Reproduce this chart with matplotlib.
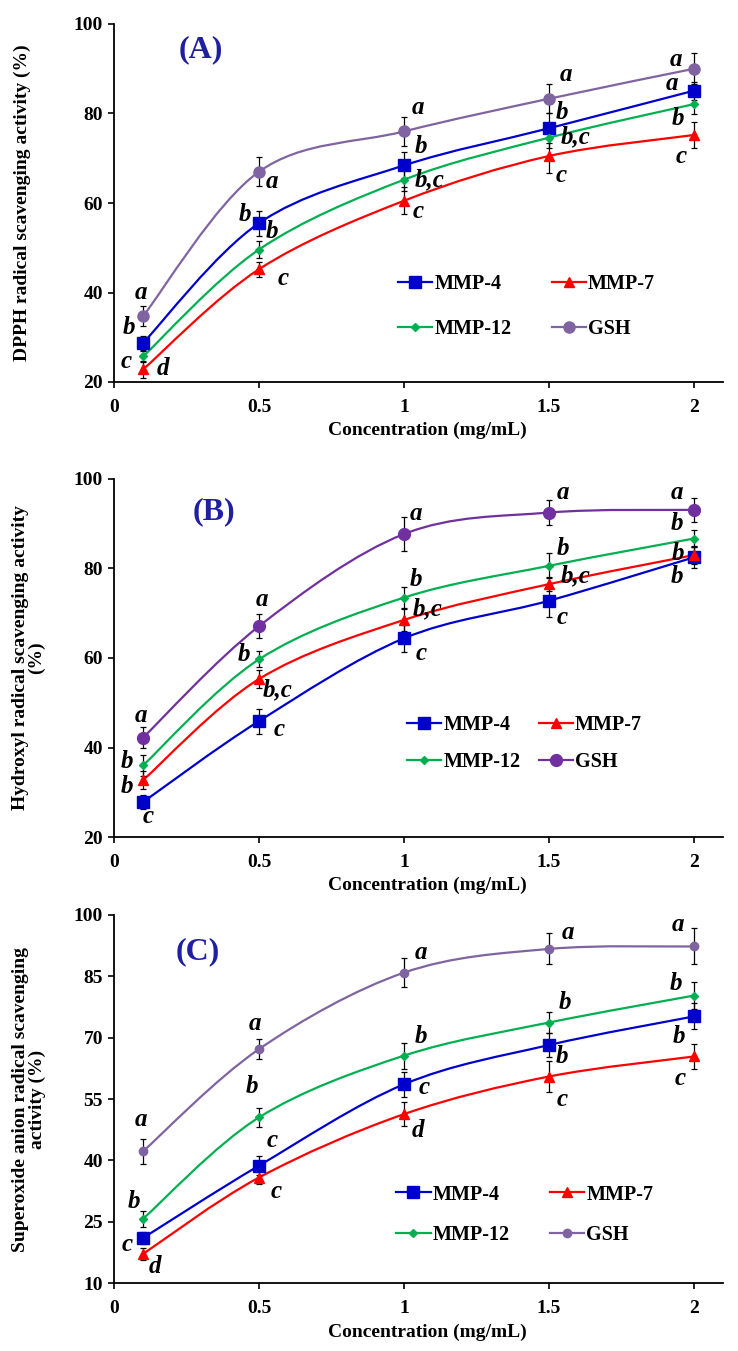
import numpy as np
import matplotlib
matplotlib.use("Agg")
import matplotlib.pyplot as plt
from matplotlib.path import Path
from matplotlib.patches import PathPatch
from matplotlib.lines import Line2D

plt.rcParams["font.family"] = ["Liberation Serif", "DejaVu Serif"]
plt.rcParams["font.weight"] = "bold"

conc = [0.1, 0.5, 1.0, 1.5, 2.0]
series = ["MMP-4", "MMP-7", "MMP-12", "GSH"]
legend_order = ["MMP-4", "MMP-12", "MMP-7", "GSH"]   # ncol=2 fills column-wise

# (A) DPPH
dpph = {
    "MMP-4": [28.7, 55.5, 68.4, 76.7, 85.1],
    "MMP-7": [22.8, 45.2, 60.5, 70.5, 75.2],
    "MMP-12": [25.7, 49.6, 65.2, 74.6, 82.1],
    "GSH": [34.7, 67.0, 76.0, 83.3, 90.0],
}
dpph_err = {
    "MMP-4": [1.6, 2.8, 2.9, 3.3, 2.0],
    "MMP-7": [2.0, 1.7, 3.0, 3.7, 3.0],
    "MMP-12": [1.3, 2.0, 2.5, 2.2, 2.3],
    "GSH": [2.2, 3.2, 3.3, 3.3, 3.5],
}
# (B) hydroxyl
hydroxyl = {
    "MMP-4": [27.8, 45.9, 64.4, 72.8, 82.5],
    "MMP-7": [32.7, 55.3, 68.5, 76.5, 83.0],
    "MMP-12": [36.0, 59.7, 73.5, 80.6, 86.7],
    "GSH": [42.2, 67.1, 87.7, 92.5, 93.1],
}
hydroxyl_err = {
    "MMP-4": [1.5, 2.8, 3.0, 3.6, 2.3],
    "MMP-7": [2.0, 2.0, 2.4, 1.6, 2.0],
    "MMP-12": [2.3, 1.8, 2.4, 2.8, 1.9],
    "GSH": [2.3, 2.7, 3.7, 2.8, 2.6],
}
# (C) superoxide anion
superoxide = {
    "MMP-4": [21.0, 38.7, 58.6, 68.2, 75.2],
    "MMP-7": [17.1, 35.8, 51.3, 60.5, 65.4],
    "MMP-12": [25.7, 50.5, 65.6, 73.7, 80.3],
    "GSH": [42.2, 67.2, 85.9, 91.7, 92.3],
}
superoxide_err = {
    "MMP-4": [1.5, 2.3, 3.0, 3.0, 3.2],
    "MMP-7": [1.5, 1.5, 3.0, 3.9, 3.0],
    "MMP-12": [2.0, 2.4, 3.2, 2.5, 3.2],
    "GSH": [3.0, 2.5, 3.5, 3.8, 4.4],
}

# significance letters: (label, x, y) placed in data coords
letters_a = [("a", 0.094, 39.9), ("b", 0.053, 32.1), ("c", 0.041, 24.6), ("d", 0.168, 23.1),
             ("a", 0.546, 64.8), ("b", 0.451, 57.4), ("b", 0.543, 53.6), ("c", 0.584, 43.2),
             ("a", 1.049, 81.4), ("b", 1.058, 72.6), ("b,c", 1.09, 65.2), ("c", 1.049, 58.1),
             ("a", 1.559, 88.8), ("b", 1.546, 80.2), ("b,c", 1.592, 74.9), ("c", 1.542, 66.1),
             ("a", 1.937, 92.1), ("a", 1.924, 86.8), ("b", 1.946, 78.9), ("c", 1.957, 70.4)]
letters_b = [("a", 0.093, 47.2), ("b", 0.044, 36.8), ("b", 0.044, 31.2), ("c", 0.117, 24.5),
             ("a", 0.511, 73.1), ("b", 0.448, 60.8), ("b,c", 0.565, 53.0), ("c", 0.568, 44.0),
             ("a", 1.042, 92.3), ("b", 1.042, 77.6), ("b,c", 1.082, 71.1), ("c", 1.058, 61.0),
             ("a", 1.549, 96.9), ("b", 1.549, 84.5), ("b,c", 1.593, 78.3), ("c", 1.545, 69.1),
             ("a", 1.94, 96.9), ("b", 1.94, 90.1), ("b", 1.945, 83.4), ("b", 1.94, 78.2)]
letters_c = [("a", 0.092, 50.1), ("b", 0.068, 30.0), ("c", 0.044, 19.4), ("d", 0.141, 14.1),
             ("a", 0.486, 73.4), ("b", 0.477, 58.1), ("c", 0.546, 44.9), ("c", 0.559, 32.4),
             ("a", 1.057, 90.8), ("b", 1.057, 70.3), ("c", 1.07, 57.7), ("d", 1.049, 47.3),
             ("a", 1.567, 95.8), ("b", 1.556, 78.6), ("b", 1.546, 65.4), ("c", 1.546, 54.8),
             ("a", 1.943, 97.6), ("b", 1.937, 83.3), ("b", 1.948, 70.4), ("c", 1.953, 60.1)]

COLORS = {"MMP-4": "#0000cc", "MMP-7": "#ff0000", "MMP-12": "#00b050", "GSH": "#8064a2"}
MARKERS = {"MMP-4": ("s", 8), "MMP-7": ("^", 7), "MMP-12": ("D", 4.5), "GSH": ("o", 7.5)}
TITLE_COLOR = "#1f1fa0"


def smooth_path(x, y):
    """Excel-like smoothed line: Catmull-Rom as cubic Bezier segments."""
    pts = np.column_stack([x, y]).astype(float)
    n = len(pts)
    verts, codes = [pts[0]], [Path.MOVETO]
    for i in range(n - 1):
        p0 = pts[i - 1] if i > 0 else pts[i]
        p1, p2 = pts[i], pts[i + 1]
        p3 = pts[i + 2] if i + 2 < n else pts[i + 1]
        verts += [p1 + (p2 - p0) / 6, p2 - (p3 - p1) / 6, p2]
        codes += [Path.CURVE4] * 3
    return Path(verts, codes)


def panel(rect, data, err, letters, ylim, yticks, ylabel, ylab_x, tag, tag_xy,
          leg_xy, leg_spacing, col_spacing, gsh_color, gsh_ms):
    ax = fig.add_axes(rect)
    colors = dict(COLORS, GSH=gsh_color)
    handles = {}
    for s in series:
        c = colors[s]
        m, ms = MARKERS[s]
        if s == "GSH":
            ms = gsh_ms
        ax.add_patch(PathPatch(smooth_path(conc, data[s]), fill=False, edgecolor=c, lw=1.6, zorder=2))
        ax.errorbar(conc, data[s], yerr=err[s], fmt="none", ecolor="black", elinewidth=0.9,
                    capsize=2.5, capthick=0.9, zorder=3)
        ax.plot(conc, data[s], linestyle="none", marker=m, ms=ms, color=c, zorder=4)
        handles[s] = Line2D([], [], color=c, lw=1.6, marker=m, ms=ms, label=s)
    for lab, lx, ly in letters:
        ax.text(lx, ly, lab, ha="center", va="center", fontsize=18, style="italic",
                fontweight="bold", zorder=5)
    ax.set_xlim(0, 2.1)
    ax.set_ylim(*ylim)
    ax.set_xticks([0, 0.5, 1, 1.5, 2])
    ax.set_xticklabels(["0", "0.5", "1", "1.5", "2"])
    ax.set_yticks(yticks)
    for side in ("top", "right"):
        ax.spines[side].set_visible(False)
    for side in ("left", "bottom"):
        ax.spines[side].set_linewidth(1.3)
    ax.tick_params(axis="both", direction="out", length=4, width=1.2, labelsize=14)
    ax.tick_params(axis="x", pad=8)
    ax.tick_params(axis="y", pad=4)
    ax.set_xlabel("Concentration (mg/mL)", fontsize=14, fontweight="bold")
    ax.xaxis.set_label_coords(0.515, -0.11)
    ax.set_ylabel(ylabel, fontsize=14, fontweight="bold", linespacing=0.95, va="center")
    ax.yaxis.set_label_coords(ylab_x, 0.5)
    ax.text(tag_xy[0], tag_xy[1], tag, ha="center", va="center", fontsize=23,
            fontweight="bold", color=TITLE_COLOR)
    ax.legend(handles=[handles[s] for s in legend_order], ncol=2, frameon=False,
              loc="upper left", bbox_to_anchor=leg_xy, borderpad=0, handlelength=1.7,
              handletextpad=0.1, labelspacing=leg_spacing, columnspacing=col_spacing,
              prop={"family": ["Liberation Serif"], "weight": "bold", "size": 14.5})
    return ax


fig = plt.figure(figsize=(7.38, 13.51), dpi=100)
W, H = 738.0, 1351.0
left, width = 114 / W, (723 - 114) / W

panel([left, 1 - 382 / H, width, 358 / H], dpph, dpph_err, letters_a, (20, 100),
      [20, 40, 60, 80, 100], "DPPH radical scavenging activity (%)", -0.15,
      "(A)", (0.3, 94.3), (0.45, 0.33), 1.25, 2.0, "#8064a2", 8)
panel([left, 1 - 837 / H, width, 358 / H], hydroxyl, hydroxyl_err, letters_b, (20, 100),
      [20, 40, 60, 80, 100], "Hydroxyl radical scavenging activity\n(%)", -0.14,
      "(B)", (0.345, 92.6), (0.465, 0.37), 0.85, 0.9, "#7030a0", 8.5)
panel([left, 1 - 1283 / H, width, 368 / H], superoxide, superoxide_err, letters_c, (10, 100),
      [10, 25, 40, 55, 70, 85, 100], "Superoxide anion radical scavenging\nactivity (%)", -0.14,
      "(C)", (0.29, 91.0), (0.447, 0.295), 1.0, 2.0, "#8064a2", 6)

fig.savefig("out.png", dpi=100)
